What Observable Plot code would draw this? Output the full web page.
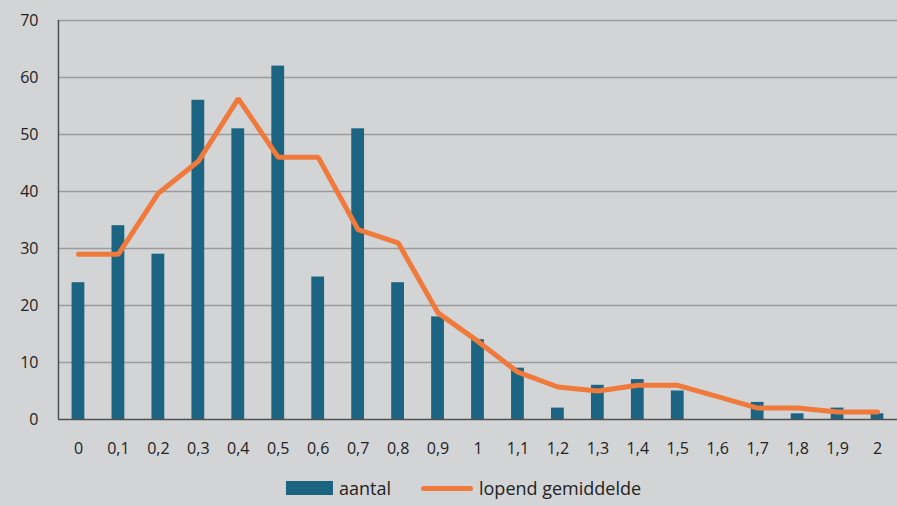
<!DOCTYPE html>
<html><head><meta charset="utf-8">
<script src="https://cdn.jsdelivr.net/npm/d3@7"></script>
<script src="https://cdn.jsdelivr.net/npm/@observablehq/plot@0.6"></script>
<style>
html,body{margin:0;padding:0;background:#d3d4d6;}
body{width:897px;height:506px;overflow:hidden;font-family:"Open Sans",sans-serif;color:#222;}
#legend{position:relative;height:36px;font-size:18px;}
.item{position:absolute;top:6px;display:flex;align-items:center;gap:6px;line-height:24px;}
.sw{width:47px;height:14px;background:#1b6482;}
.ln{width:52px;height:5px;border-radius:3px;background:#f07a3b;}
</style></head>
<body><div id="chart"></div><div id="legend"><div class="item" style="left:286px"><span class="sw"></span>aantal</div><div class="item" style="left:421px"><span class="ln"></span>lopend gemiddelde</div></div>
<script>
const categories = ["0","0,1","0,2","0,3","0,4","0,5","0,6","0,7","0,8","0,9","1","1,1","1,2","1,3","1,4","1,5","1,6","1,7","1,8","1,9","2"];
const aantal = [24,34,29,56,51,62,25,51,24,18,14,9,2,6,7,5,0,3,1,2,1];
const lopend = [29,29,39.7,45.3,56.3,46,46,33.3,31,18.7,13.7,8.3,5.7,5,6,6,4,2,2,1.3,1.3];
const yTicks = [0,10,20,30,40,50,60,70];

const data = categories.map((c,i)=>({c, a: aantal[i], l: lopend[i]}));

const chart = Plot.plot({
  width: 897, height: 470,
  marginTop: 20, marginBottom: 51, marginLeft: 58, marginRight: 0,
  style: {background: "#d3d4d6", fontFamily: "'Open Sans', sans-serif", fontSize: "16px", color: "#222"},
  x: {type: "band", domain: categories, paddingInner: 0.68, paddingOuter: 0.34, round: false, label: null, tickSize: 0, tickPadding: 23},
  y: {domain: [0,70], ticks: yTicks, label: null, tickSize: 0, tickPadding: 20},
  marks: [
    Plot.ruleY(yTicks.filter(d=>d>0), {stroke: "#9a9b9d", strokeWidth: 1.5}),
    Plot.barY(data, {x: "c", y: "a", fill: "#1b6482"}),
    Plot.lineY(data, {x: "c", y: "l", stroke: "#f07a3b", strokeWidth: 5, strokeLinejoin: "miter", strokeLinecap: "round"}),
    Plot.ruleY([0], {stroke: "#505050", strokeWidth: 1.5}),
    Plot.ruleX([categories[0]], {stroke: "#505050", strokeWidth: 1.5, dx: -20})
  ]
});
document.getElementById("chart").appendChild(chart);
</script></body></html>
